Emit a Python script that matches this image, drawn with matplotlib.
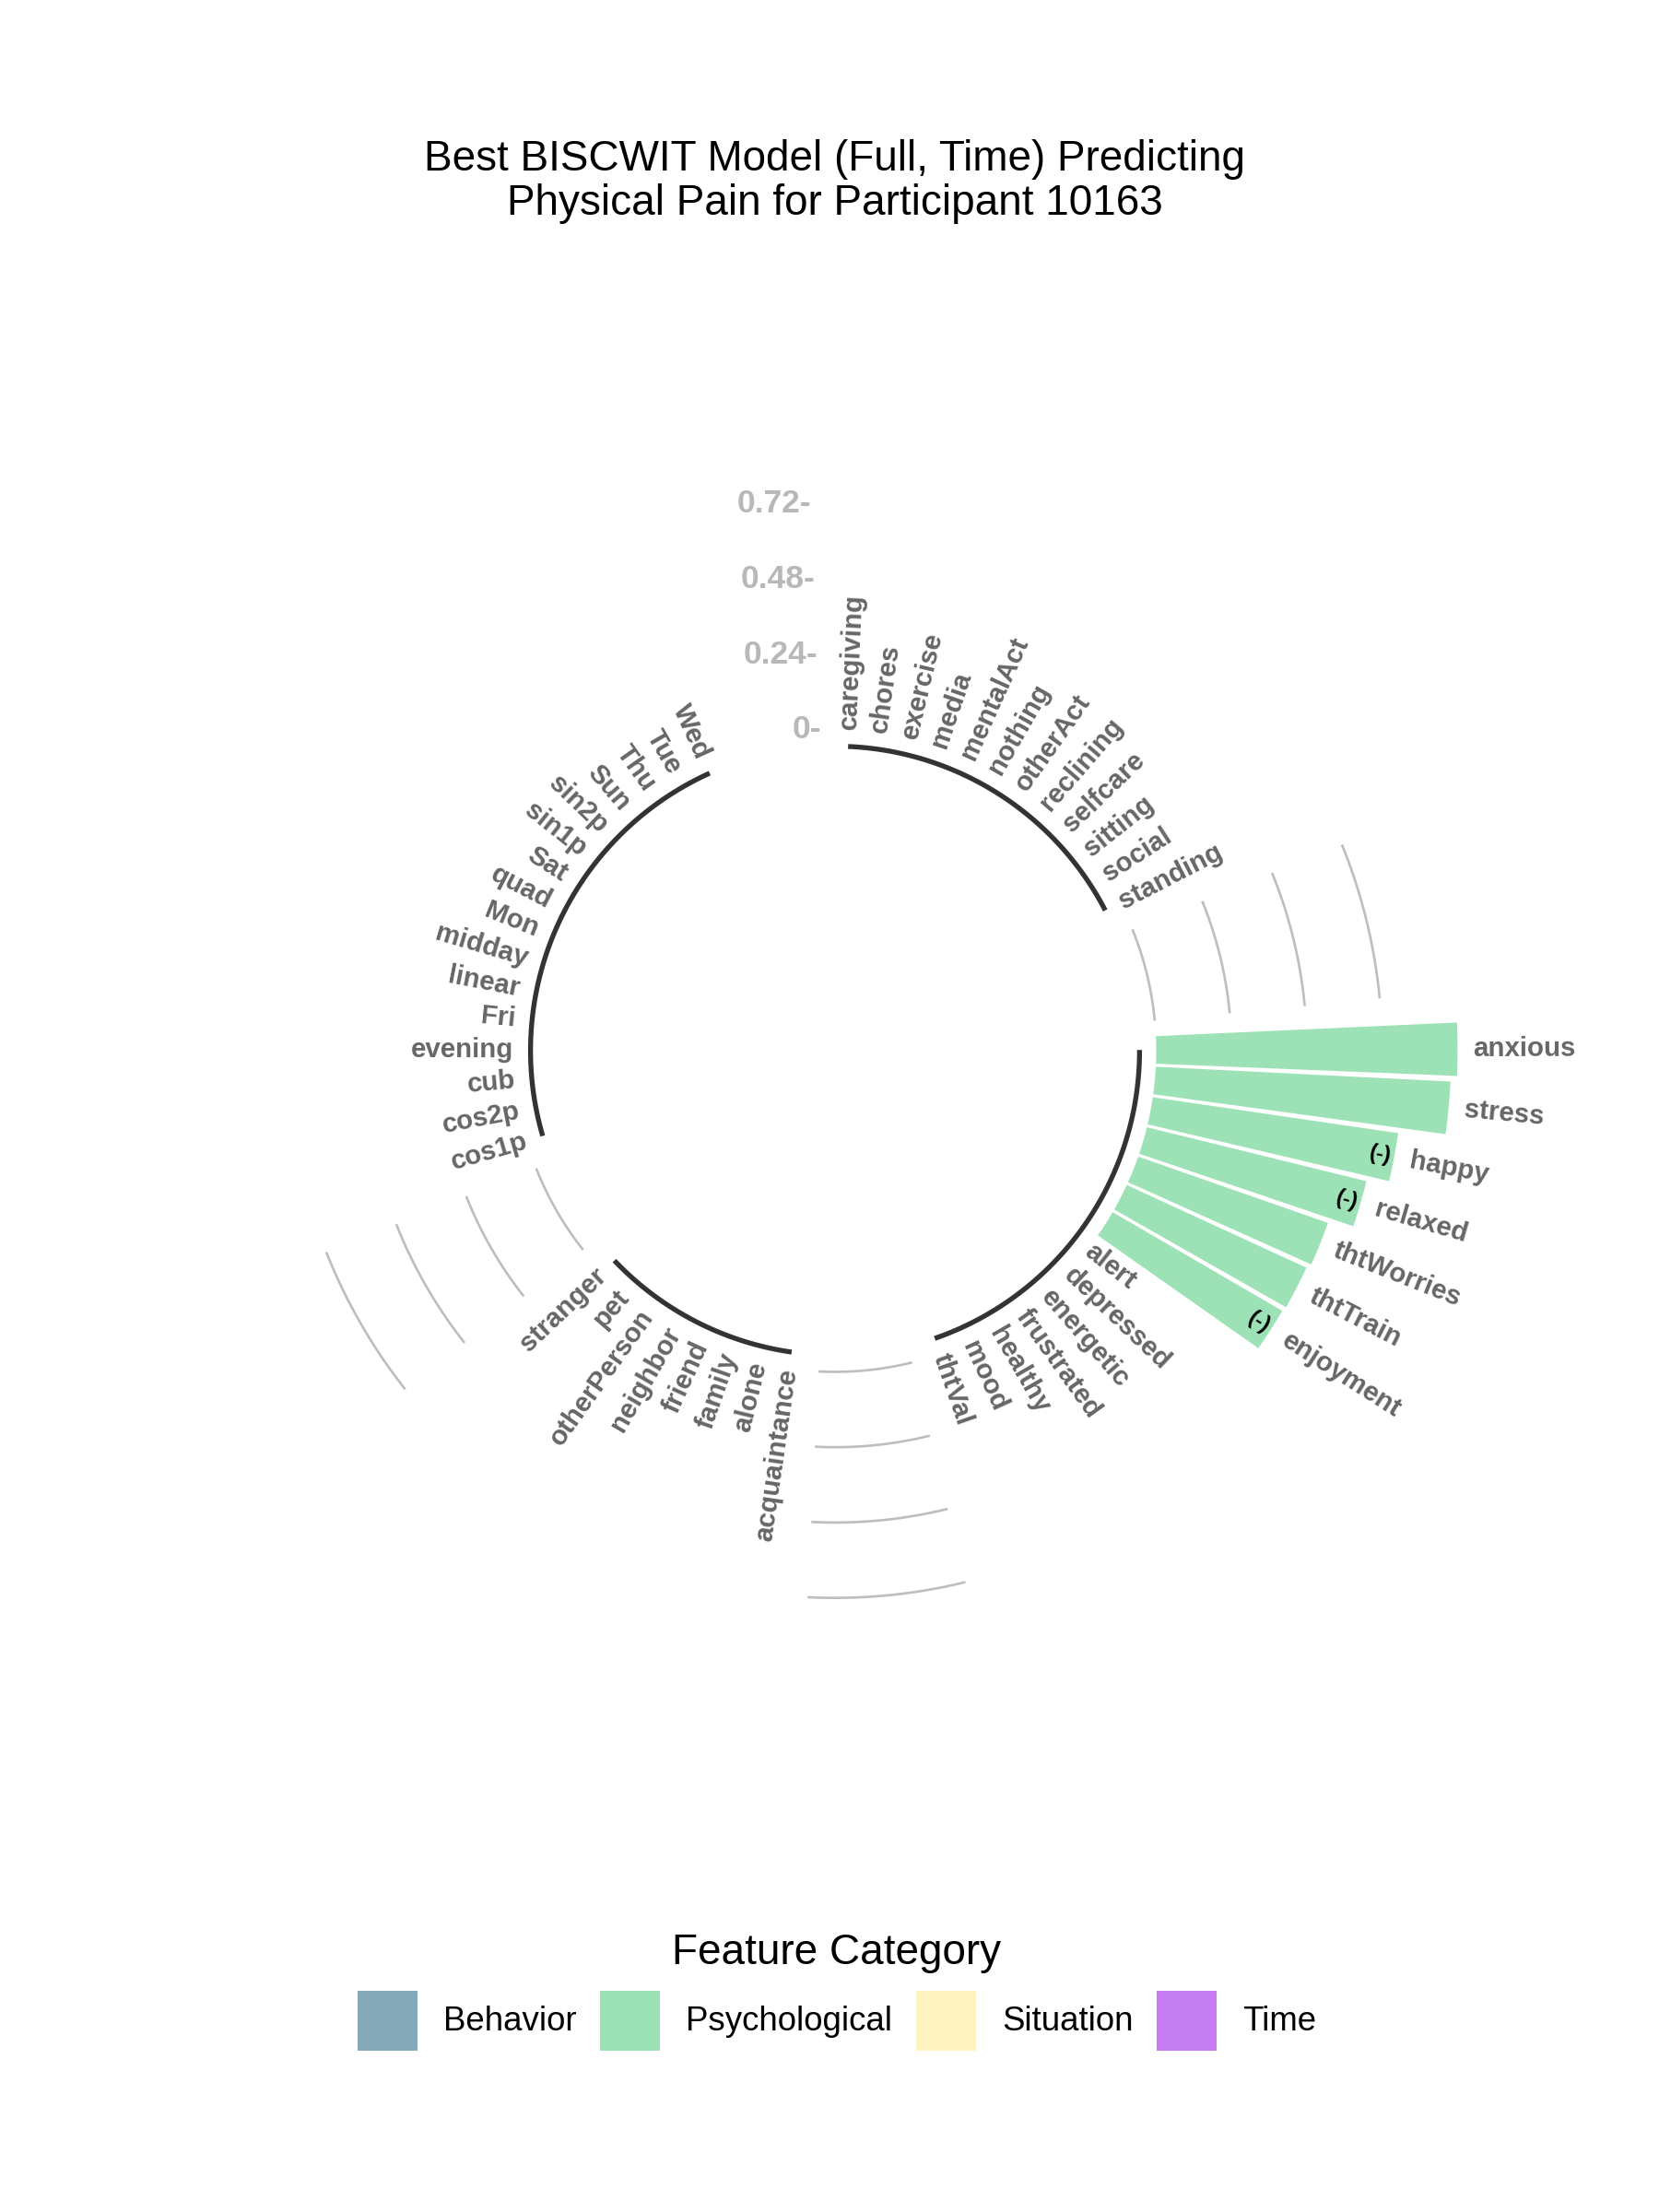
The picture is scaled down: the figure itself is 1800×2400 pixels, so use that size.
import numpy as np
import matplotlib
matplotlib.use("Agg")
import matplotlib.pyplot as plt
from matplotlib.patches import Patch

plt.rcParams["font.family"] = ["Liberation Sans", "DejaVu Sans"]

# feature importances per category (sign = direction of the effect)
behavior = ["caregiving", "chores", "exercise", "media", "mentalAct", "nothing",
            "otherAct", "reclining", "selfcare", "sitting", "social", "standing"]
behavior_vals = [0, 0, 0, 0, 0, 0, 0, 0, 0, 0, 0, 0]

psych = ["anxious", "stress", "happy", "relaxed", "thtWorries", "thtTrain",
         "enjoyment", "alert", "depressed", "energetic", "frustrated",
         "healthy", "mood", "thtVal"]
psych_vals = [0.96, 0.94, -0.79, -0.72, 0.64, 0.63, -0.625,
              0, 0, 0, 0, 0, 0, 0]

situation = ["acquaintance", "alone", "family", "friend", "neighbor",
             "otherPerson", "pet", "stranger"]
situation_vals = [0, 0, 0, 0, 0, 0, 0, 0]

time_feats = ["cos1p", "cos2p", "cub", "evening", "Fri", "linear", "midday",
              "Mon", "quad", "Sat", "sin1p", "sin2p", "Sun", "Thu", "Tue", "Wed"]
time_vals = [0, 0, 0, 0, 0, 0, 0, 0, 0, 0, 0, 0, 0, 0, 0, 0]

categories = ["Behavior", "Psychological", "Situation", "Time"]
cat_colors = ["#86A9BA", "#9DE2B6", "#FFF4C0", "#C47DF0"]
tick_vals = [0, 0.24, 0.48, 0.72]

groups = [(behavior, behavior_vals), (psych, psych_vals),
          (situation, situation_vals), (time_feats, time_vals)]

# lay out ids with empty slots after each group
n_empty = 4
ids, names, vals, cols, spans = [], [], [], [], []
pos = 1
for (feats, v), c in zip(groups, cat_colors):
    start = pos
    for f, val in zip(feats, v):
        ids.append(pos)
        names.append(f)
        vals.append(val)
        cols.append(c)
        pos += 1
    spans.append((start, pos - 1))
    pos += n_empty
n_pos = pos - 1
ids = np.array(ids)
vals = np.array(vals, dtype=float)

bw = 0.9
span = n_pos - 1 + bw


def th(x):
    return (np.asarray(x, dtype=float) - (1 - bw / 2)) / span * 2 * np.pi


fig = plt.figure(figsize=(6, 8), dpi=300)
cx, cy, scale = 906, 1140, 340.6
rmin, rmax = -1.023, 1.5
rad = (rmax - rmin) * scale
ax = fig.add_axes([(cx - rad) / 1800, (2400 - cy - rad) / 2400,
                   2 * rad / 1800, 2 * rad / 2400], projection="polar")
ax.set_theta_zero_location("N")
ax.set_theta_direction(-1)
ax.set_ylim(rmin, rmax)
ax.axis("off")

ax.bar(th(ids), np.abs(vals), width=bw / span * 2 * np.pi, bottom=0,
       color=cols, edgecolor="none", align="center")

# grid arcs in the gaps between groups
for i in range(1, len(spans)):
    t = np.linspace(th(spans[i - 1][1] + 1), th(spans[i][0] - 1), 60)
    for tv in tick_vals:
        ax.plot(t, np.full_like(t, tv), color="#BEBEBE", lw=0.64)

# base line under each group
for s, e in spans:
    t = np.linspace(th(s), th(e), 100)
    ax.plot(t, np.full_like(t, -0.053), color="#333333", lw=1.28,
            solid_capstyle="butt")

for tv in tick_vals:
    ax.text(th(n_pos), tv, f"{tv:g}-", ha="right", va="center",
            fontsize=8.5, fontweight="bold", color="#B8B8B8")

for i, name, v in zip(ids, names, vals):
    a = np.degrees(th(i))
    if a <= 180:
        rot, ha = 90 - a, "left"
    else:
        rot, ha = 270 - a, "right"
    r = abs(v) + 0.05 if v != 0 else 0
    ax.text(th(i), r, name, rotation=rot, rotation_mode="anchor", ha=ha,
            va="center", fontsize=7.1, fontweight="bold", color="#666666",
            clip_on=False)
    if v < 0:
        ax.text(th(i), abs(v) - 0.045, "(-)", rotation=rot,
                rotation_mode="anchor", ha="center", va="center",
                fontsize=5.7, fontweight="bold", color="black")

fig.text(cx / 1800, 1 - 197 / 2400,
         "Best BISCWIT Model (Full, Time) Predicting\nPhysical Pain for Participant 10163",
         ha="center", va="center", fontsize=11, linespacing=1.12)

handles = [Patch(facecolor=c, edgecolor="none", label=g)
           for g, c in zip(categories, cat_colors)]
fig.legend(handles=handles, loc="center", bbox_to_anchor=(908 / 1800, 1 - 2161 / 2400),
           ncol=4, frameon=False, title="Feature Category", title_fontsize=11,
           fontsize=8.8, handlelength=1.77, handleheight=2.35,
           handletextpad=0.77, columnspacing=0.7)

fig.savefig("out.png", dpi=300, facecolor="white")
